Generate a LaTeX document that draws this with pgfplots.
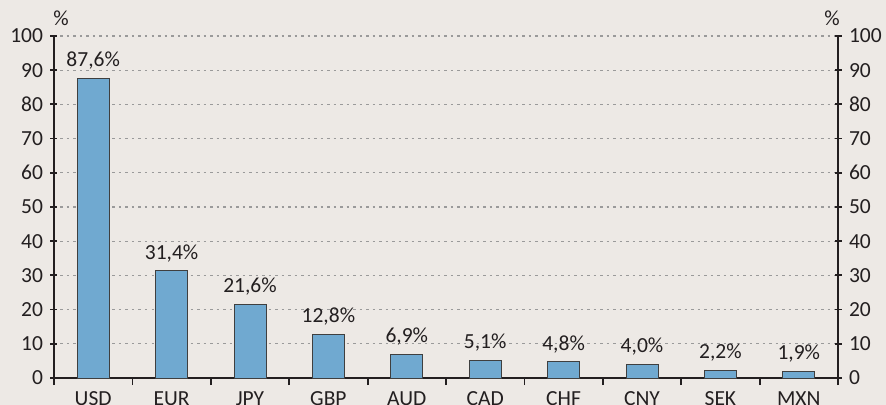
\documentclass[border=0pt]{standalone}
\usepackage{pgfplots}
\pgfplotsset{compat=1.18}
\usepackage{fontspec}
\setmainfont{Carlito}
\definecolor{bg}{HTML}{EDE9E5}
\definecolor{barfill}{HTML}{70A9D0}
\definecolor{barline}{HTML}{3F3F3F}
\definecolor{txt}{HTML}{231F20}
\definecolor{gridc}{HTML}{9A9A9A}
\newcommand{\chartfont}{\fontsize{21.5bp}{24bp}\selectfont}
\pgfplotsset{
  common/.style={
    at={(0,0)}, anchor=south west,
    scale only axis, width=784bp, height=342bp,
    xmin=-0.5, xmax=9.5, ymin=0, ymax=100,
    ytick={0,10,...,100},
    axis line style={line width=1.8bp, color=txt},
    ytick align=center,
    major tick length=7bp,
    every tick/.style={line width=1.8bp, color=txt},
    tick label style={font=\chartfont, text=txt},
    /pgf/number format/assume math mode=true,
  }
}
\begin{document}
\begin{tikzpicture}
\fill[bg] (-54bp,-27bp) rectangle (832bp,378bp);
\useasboundingbox (-54bp,-27bp) rectangle (832bp,378bp);
\begin{axis}[
  common,
  axis x line*=bottom, axis y line*=left,
  xtick={0,...,9},
  xticklabels={USD,EUR,JPY,GBP,AUD,CAD,CHF,CNY,SEK,MXN},
  major x tick style={draw=none},
  minor xtick={-0.5,0.5,...,9.5},
  minor x tick style={line width=1.8bp, color=txt},
  minor tick length=7bp,
  xtick align=outside,
  xticklabel style={yshift=-3bp},
  yticklabel style={xshift=-4bp},
  ymajorgrids,
  major grid style={draw=gridc, line width=1.1bp, dash pattern=on 2.5bp off 4bp},
  ybar, bar width=32bp,
  nodes near coords={\pgfmathprintnumber[fixed,fixed zerofill,precision=1,use comma]{\pgfplotspointmeta}\%},
  every node near coord/.append style={font=\chartfont, text=txt, yshift=5bp},
  clip=false,
]
\addplot[fill=barfill, draw=barline, line width=1bp] coordinates {
  (0,87.6) (1,31.4) (2,21.6) (3,12.8) (4,6.9) (5,5.1) (6,4.8) (7,4.0) (8,2.2) (9,1.9)
};
\node[anchor=base, font=\chartfont, text=txt] at ([xshift=7bp,yshift=10bp]rel axis cs:0,1) {\%};
\node[anchor=base, font=\chartfont, text=txt] at ([xshift=-6bp,yshift=10bp]rel axis cs:1,1) {\%};
\end{axis}
\begin{axis}[
  common,
  axis x line=none, axis y line*=right,
  xtick=\empty,
  yticklabel style={xshift=4bp},
]
\addplot[draw=none] coordinates {(0,0)};
\end{axis}
\end{tikzpicture}
\end{document}
